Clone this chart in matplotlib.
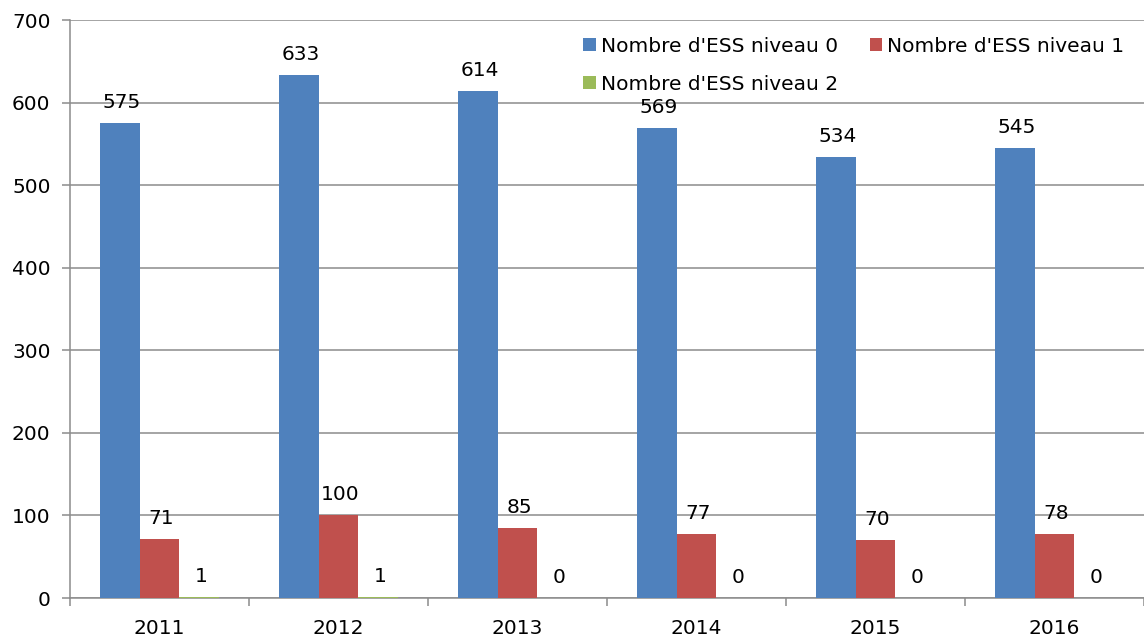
import numpy as np
import matplotlib.pyplot as plt

years = ['2011', '2012', '2013', '2014', '2015', '2016']
niveau0 = [575, 633, 614, 569, 534, 545]
niveau1 = [71, 100, 85, 77, 70, 78]
niveau2 = [1, 1, 0, 0, 0, 0]
series_names = ["Nombre d'ESS niveau 0", "Nombre d'ESS niveau 1", "Nombre d'ESS niveau 2"]
colors = ['#4F81BD', '#C0504D', '#9BBB59']

plt.rcParams['font.family'] = 'DejaVu Sans'
fs = 14.5

fig = plt.figure(figsize=(11.44, 6.37), dpi=100)
ax = fig.add_axes([0.0612, 0.0612, 0.9388, 0.9074])

x = np.arange(len(years))
w = 0.223
for k, (vals, name, c) in enumerate(zip([niveau0, niveau1, niveau2], series_names, colors)):
    ax.bar(x + (k - 1) * w, vals, w, color=c, label=name, zorder=3)
    for xi, v in zip(x + (k - 1) * w, vals):
        ax.annotate(str(v), (xi, v), xytext=(2, 11), textcoords='offset pixels',
                    ha='center', va='bottom', fontsize=fs)

ax.set_xlim(-0.5, len(years) - 0.5)
ax.set_ylim(0, 700)
ax.set_yticks(range(0, 701, 100))
ax.yaxis.grid(True, color='#8c8c8c', linewidth=1.1, zorder=0)
ax.set_axisbelow(True)

ax.set_xticks(x)
ax.set_xticklabels(years)
ax.set_xticks(np.arange(-0.5, len(years), 1), minor=True)
ax.tick_params(axis='x', which='major', length=0, labelsize=fs, pad=15)
ax.tick_params(axis='x', which='minor', length=6, color='#8c8c8c', width=1.1)
ax.tick_params(axis='y', length=6, color='#8c8c8c', width=1.1, labelsize=fs, pad=8)

for s in ['top', 'right']:
    ax.spines[s].set_visible(False)
for s in ['left', 'bottom']:
    ax.spines[s].set_color('#8c8c8c')
    ax.spines[s].set_linewidth(1.1)

h, l = ax.get_legend_handles_labels()
order = [0, 2, 1]
ax.legend([h[i] for i in order], [l[i] for i in order], ncol=2, frameon=False,
          loc='upper left', bbox_to_anchor=(0.503, 0.955), bbox_transform=fig.transFigure,
          fontsize=fs, handlelength=0.6, handleheight=0.6, handletextpad=0.25,
          columnspacing=1.6, labelspacing=0.95, borderaxespad=0)

fig.savefig('out.png', dpi=100)
